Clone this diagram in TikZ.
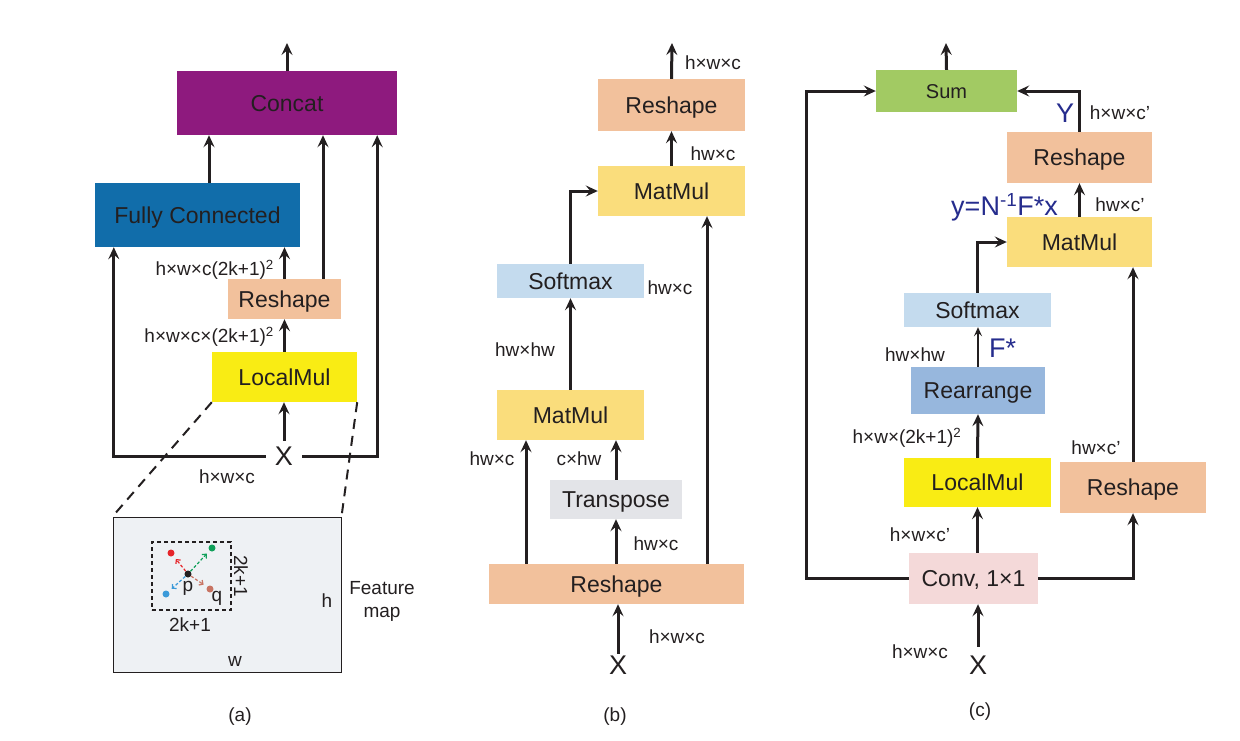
\documentclass[tikz,border=0pt]{standalone}
\usepackage{fontspec}
\setmainfont{Liberation Sans}
\usetikzlibrary{arrows.meta}

\begin{document}
\begin{tikzpicture}[x=1pt,y=-1pt,
  opbox/.style={rectangle,inner sep=0pt,text=ink,font=\fontsize{23}{27}\selectfont,text height=16.5pt,text depth=0pt},
  dimtxt/.style={text=ink,font=\fontsize{19}{23}\selectfont,inner sep=0pt},
  bluetxt/.style={text=bluet,font=\fontsize{27}{30}\selectfont,inner sep=0pt},
  xin/.style={text=ink,font=\fontsize{27}{30}\selectfont,inner sep=2pt},
  arr/.style={draw=ink,line width=3pt,-{Stealth[length=12pt,width=11pt,inset=4.5pt]}},
  thinarr/.style={draw=ink,line width=2pt,-{Stealth[length=9pt,width=8pt,inset=3.5pt]}},
  zoomline/.style={draw=ink,line width=2pt,dash pattern=on 10pt off 7pt},
  dot/.style={circle,inner sep=0pt,minimum size=7pt},
  ptr/.style={line width=1.2pt,dash pattern=on 3pt off 2pt,-{Straight Barb[length=3pt,width=6pt]},shorten >=4pt}]
\definecolor{ink}{HTML}{231F20}
\definecolor{purplec}{HTML}{8E1A7E}
\definecolor{fcblue}{HTML}{116DAA}
\definecolor{peach}{HTML}{F2C19C}
\definecolor{yellowc}{HTML}{F9EC14}
\definecolor{mmyellow}{HTML}{FADD7C}
\definecolor{smblue}{HTML}{C4DBEE}
\definecolor{trgray}{HTML}{E3E4E8}
\definecolor{sumgreen}{HTML}{A2CA63}
\definecolor{rablue}{HTML}{97B7DD}
\definecolor{convpink}{HTML}{F4D9D9}
\definecolor{fmapc}{HTML}{EEF1F4}
\definecolor{bluet}{HTML}{252C8D}
\definecolor{dotred}{HTML}{E6252A}
\definecolor{dotgreen}{HTML}{10A05A}
\definecolor{dotblue}{HTML}{3B9AD9}
\definecolor{dotbrown}{HTML}{C87463}
\useasboundingbox (0,0) rectangle (1240,740);

% (a)
\node[opbox,fill=purplec,minimum width=220pt,minimum height=64pt] (concat) at (287,103) {Concat};
\node[opbox,fill=fcblue,minimum width=205pt,minimum height=64pt] (fc) at (197.5,215) {Fully Connected};
\node[opbox,fill=peach,minimum width=113pt,minimum height=40pt] (resa) at (284.5,299) {Reshape};
\node[opbox,fill=yellowc,minimum width=145pt,minimum height=50pt] (lma) at (284.5,377) {LocalMul};
\node[xin,inner xsep=9pt,inner ysep=6pt] (xa) at (284,456) {X};
\coordinate (outa) at (287,43);
\coordinate (a1) at ([xshift=11.5pt]fc.north);
\coordinate (a2) at ([xshift=38.5pt]resa.north);
\draw[arr] (concat.north) -- (outa);
\draw[arr] (a1) -- (a1 |- concat.south);
\draw[arr] (a2) -- (a2 |- concat.south);
\draw[arr] (resa.north) -- (resa.north |- fc.south);
\draw[arr] (lma.north) -- (resa.south);
\draw[arr] (xa.north) -- (xa.north |- lma.south);
\draw[arr] (xa.west) -| ([xshift=19pt]fc.south west);
\draw[arr] (xa.east) -| ([xshift=-20pt]concat.south east);
\node[dimtxt,anchor=east] (la1) at (274,270) {h×w×c(2k+1)\textsuperscript{2}};
\node[dimtxt,anchor=east] (la2) at (274,337) {h×w×c×(2k+1)\textsuperscript{2}};
\node[dimtxt] (la3) at (227,477) {h×w×c};

% feature map
\node[draw=ink,line width=1pt,fill=fmapc,minimum width=228pt,minimum height=155pt] (fmap) at (227,594.5) {};
\draw[zoomline] (lma.south west) -- (fmap.north west);
\draw[zoomline] (lma.south east) -- (fmap.north east);
\node[draw=ink,line width=1.5pt,dash pattern=on 4pt off 3pt,minimum width=79pt,minimum height=68pt] (win) at (191.5,576) {};
\node[dot,fill=ink] (p) at (188,574) {};
\foreach \dname/\dcol/\px/\py in {r/dotred/171/553,g/dotgreen/212/548,b/dotblue/166/594,q/dotbrown/210/589}
{ \node[dot,fill=\dcol] (\dname) at (\px,\py) {};
  \draw[ptr,\dcol] (p) -- (\dname);}
\node[dimtxt,anchor=base] (plab) at (188,591) {p};
\node[dimtxt,anchor=base] (qlab) at (217,601) {q};
\node[dimtxt,rotate=-90] (kside) at (241,576) {2k+1};
\node[dimtxt] (kbot) at (190,625) {2k+1};
\node[dimtxt,anchor=base] (hlab) at (327,607) {h};
\node[dimtxt,anchor=base] (wlab) at (235,666) {w};
\node[dimtxt,align=center] (fmlab) at (382,601) {Feature\\map};
\node[dimtxt] (capa) at (240,717) {(a)};

% (b)
\node[opbox,fill=peach,minimum width=147pt,minimum height=52pt] (resb1) at (671.5,105) {Reshape};
\node[opbox,fill=mmyellow,minimum width=147pt,minimum height=50pt] (mmb1) at (671.5,191) {MatMul};
\node[opbox,fill=smblue,minimum width=147pt,minimum height=34pt] (smb) at (570.5,281) {Softmax};
\node[opbox,fill=mmyellow,minimum width=147pt,minimum height=50pt] (mmb2) at (570.5,415) {MatMul};
\node[opbox,fill=trgray,minimum width=132pt,minimum height=39pt] (trb) at (616,499.5) {Transpose};
\node[opbox,fill=peach,minimum width=255pt,minimum height=40pt] (resb2) at (616.5,584) {Reshape};
\node[xin] (xb) at (618,665) {X};
\coordinate (outb) at (672,43);
\coordinate (b1) at ([xshift=-44.5pt]mmb2.south);
\coordinate (b2) at ([xshift=35.5pt]mmb1.south);
\draw[arr] (resb1.north) -- (outb);
\draw[arr] (mmb1.north) -- (resb1.south);
\draw[arr] (smb.north) |- (mmb1.west);
\draw[arr] (mmb2.north) -- (smb.south);
\draw[arr] (b1 |- resb2.north) -- (b1);
\draw[arr] (trb.north) -- (trb.north |- mmb2.south);
\draw[arr] (trb.south |- resb2.north) -- (trb.south);
\draw[arr] (b2 |- resb2.north) -- (b2);
\draw[arr] (xb.north) -- (xb.north |- resb2.south);
\node[dimtxt] (lb1) at (713,63) {h×w×c};
\node[dimtxt] (lb2) at (713,154) {hw×c};
\node[dimtxt] (lb3) at (670,288) {hw×c};
\node[dimtxt] (lb4) at (525,350) {hw×hw};
\node[dimtxt] (lb5) at (492,459) {hw×c};
\node[dimtxt] (lb6) at (579,459) {c×hw};
\node[dimtxt] (lb7) at (656,544) {hw×c};
\node[dimtxt] (lb8) at (677,637) {h×w×c};
\node[dimtxt] (capb) at (615,717) {(b)};

% (c)
\node[opbox,fill=sumgreen,minimum width=141pt,minimum height=42pt,font=\fontsize{20}{23}\selectfont,text height=14.3pt] (sum) at (946.5,91) {Sum};
\node[opbox,fill=peach,minimum width=145pt,minimum height=51pt] (resc1) at (1079.5,157.5) {Reshape};
\node[opbox,fill=mmyellow,minimum width=145pt,minimum height=50pt] (mmc) at (1079.5,242) {MatMul};
\node[opbox,fill=smblue,minimum width=147pt,minimum height=34pt] (smc) at (977.5,310) {Softmax};
\node[opbox,fill=rablue,minimum width=134pt,minimum height=47pt] (rac) at (978,390.5) {Rearrange};
\node[opbox,fill=yellowc,minimum width=147pt,minimum height=49pt] (lmc) at (977.5,482.5) {LocalMul};
\node[opbox,fill=peach,minimum width=146pt,minimum height=51pt] (resc2) at (1133,487.5) {Reshape};
\node[opbox,fill=convpink,minimum width=129pt,minimum height=51pt] (conv) at (973.5,578.5) {Conv, 1×1};
\node[xin,inner ysep=9pt] (xc) at (978,665) {X};
\coordinate (outc) at (946,43);
\draw[arr] (sum.north) -- (outc);
\draw[arr] (conv.west) -- ++(-102,0) |- (sum.west);
\draw[arr] (resc1.north) |- (sum.east);
\draw[arr] (mmc.north) -- (resc1.south);
\draw[arr] (smc.north) |- (mmc.west);
\draw[thinarr] (rac.north) -- (rac.north |- smc.south);
\draw[arr] (lmc.north) -- (rac.south);
\draw[arr] (lmc.south |- conv.north) -- (lmc.south);
\draw[arr] (conv.east) -| (resc2.south);
\draw[arr] (resc2.north) -- (resc2.north |- mmc.south);
\draw[arr] (xc.north) -- (xc.north |- conv.south);
\node[bluetxt] (ylab) at (1065,113) {Y};
\node[dimtxt] (lc1) at (1120,113) {h×w×c’};
\node[bluetxt,anchor=east] (eqlab) at (1058,207) {y=N\textsuperscript{-1}F*x};
\node[dimtxt] (lc2) at (1120,205) {hw×c’};
\node[bluetxt,anchor=west] (fstar) at (989,348) {F*};
\node[dimtxt] (lc3) at (915,355) {hw×hw};
\node[dimtxt] (lc4) at (907,438) {h×w×(2k+1)\textsuperscript{2}};
\node[dimtxt] (lc5) at (1096,448) {hw×c’};
\node[dimtxt] (lc6) at (920,535) {h×w×c’};
\node[dimtxt] (lc7) at (920,652) {h×w×c};
\node[dimtxt] (capc) at (980,712) {(c)};
\end{tikzpicture}
\end{document}
